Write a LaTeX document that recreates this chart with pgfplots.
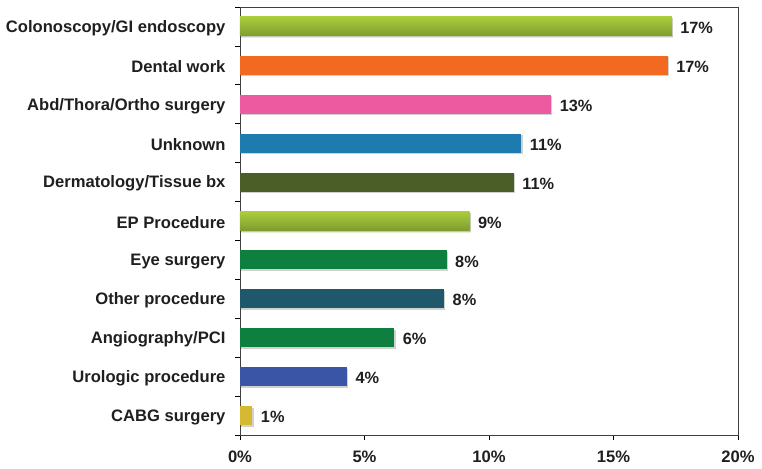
\documentclass[border=0pt]{standalone}
\usepackage{pgfplots}
\pgfplotsset{compat=1.18}
\usepackage{fontspec}
\setmainfont{Liberation Sans}
\usetikzlibrary{shadows}
\definecolor{lgT}{HTML}{AACD3C}
\definecolor{lgB}{HTML}{7E9C2F}
\definecolor{orng}{HTML}{F26A22}
\definecolor{pnk}{HTML}{EE5A9F}
\definecolor{blu}{HTML}{1E7BAE}
\definecolor{olv}{HTML}{4B5E27}
\definecolor{grn}{HTML}{0F7F3F}
\definecolor{tea}{HTML}{1F586A}
\definecolor{ubl}{HTML}{3A55A6}
\definecolor{gld}{HTML}{D6B932}
\tikzset{bs/.style={drop shadow={shadow xshift=1.2bp, shadow yshift=-1.5bp, opacity=0.18, fill=black}}}
\begin{document}
\begin{tikzpicture}
\begin{axis}[
  scale only axis, width=498bp, height=428bp,
  xbar, bar width=19bp, bar shift=0pt,
  xmin=0, xmax=20, ymin=-0.5, ymax=10.5, y dir=reverse,
  xtick={0,5,10,15,20},
  xticklabel={\pgfmathprintnumber{\tick}\%},
  ytick={0,...,10},
  yticklabels={Colonoscopy/GI endoscopy, Dental work, Abd/Thora/Ortho surgery, Unknown, Dermatology/Tissue bx, EP Procedure, Eye surgery, Other procedure, Angiography/PCI, Urologic procedure, CABG surgery},
  minor ytick={-0.5,0.5,...,10.5},
  major y tick style={draw=none},
  tick align=outside, major tick length=5bp, minor tick length=5bp,
  xtick pos=bottom, ytick pos=left,
  axis line style={black!75, line width=0.8bp},
  tick style={black, line width=0.8bp},
  ticklabel style={font=\fontsize{16.6bp}{19bp}\selectfont\bfseries, text=black!88},
  yticklabel style={xshift=-6bp, yshift=-1.5bp},
  xticklabel style={yshift=-7bp},
  /pgf/number format/assume math mode=true,
  nodes near coords, point meta=explicit symbolic,
  nodes near coords style={font=\fontsize{16.3bp}{19bp}\selectfont\bfseries, text=black!88, anchor=west, xshift=5bp, yshift=-1.5bp},
  every axis plot/.append style={draw=none},
]
\addplot[bs, top color=lgT, bottom color=lgB] coordinates {(17.34,0) [17\%]};
\addplot[bs, fill=orng] coordinates {(17.18,1) [17\%]};
\addplot[bs, fill=pnk] coordinates {(12.5,2) [13\%]};
\addplot[bs, fill=blu] coordinates {(11.3,3) [11\%]};
\addplot[bs, fill=olv] coordinates {(11.0,4) [11\%]};
\addplot[bs, top color=lgT, bottom color=lgB] coordinates {(9.22,5) [9\%]};
\addplot[bs, fill=grn] coordinates {(8.3,6) [8\%]};
\addplot[bs, fill=tea] coordinates {(8.2,7) [8\%]};
\addplot[bs, fill=grn] coordinates {(6.2,8) [6\%]};
\addplot[bs, fill=ubl] coordinates {(4.3,9) [4\%]};
\addplot[bs, fill=gld] coordinates {(0.5,10) [1\%]};
\end{axis}
\pgfresetboundingbox
\path[use as bounding box] (current axis.south west) ++(-240bp,-34bp) rectangle ++(762bp,469bp);
\end{tikzpicture}
\end{document}
